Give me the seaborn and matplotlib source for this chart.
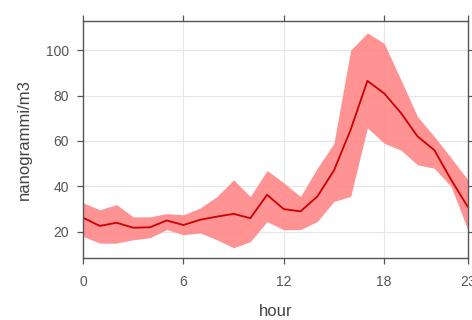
import matplotlib
matplotlib.use("Agg")
import matplotlib.pyplot as plt
import seaborn as sns
import pandas as pd

# Hourly mean concentration with its confidence band
hours = list(range(24))
mean_conc = [26.2, 22.6, 24.0, 21.8, 22.0, 25.0, 23.0, 25.3, 26.7, 27.9,
             26.0, 36.3, 30.0, 29.0, 35.5, 47.0, 65.0, 86.5, 81.0, 72.4,
             62.0, 56.0, 43.0, 31.0]
upper_conc = [32.8, 29.7, 32.0, 26.6, 26.6, 28.0, 27.5, 30.5, 35.5, 42.9,
              35.5, 47.0, 41.6, 35.5, 48.0, 59.0, 100.0, 107.6, 103.0, 87.0,
              70.7, 62.0, 52.6, 43.0]
lower_conc = [18.0, 15.0, 15.0, 16.5, 17.4, 21.0, 18.7, 19.5, 16.5, 13.0,
              15.7, 24.5, 20.9, 21.0, 24.5, 33.4, 35.6, 65.8, 59.0, 56.0,
              49.5, 48.0, 40.0, 21.0]
x_ticks = [0, 6, 12, 18, 23]
y_ticks = [20, 40, 60, 80, 100]

df = pd.DataFrame({"hour": hours, "conc": mean_conc,
                   "lo": lower_conc, "hi": upper_conc})

sns.set_theme(style="white")
plt.rcParams["font.family"] = ["Liberation Sans", "DejaVu Sans"]

fig = plt.figure(figsize=(4.72, 3.2), dpi=100)
ax = fig.add_axes([0.176, 0.194, 0.815, 0.740])

grid_c = "#e6e6e6"
for v in y_ticks:
    ax.axhline(v, color=grid_c, lw=0.8, zorder=0)
for v in [6, 12, 18]:
    ax.axvline(v, color=grid_c, lw=0.8, zorder=0)

ax.fill_between(df["hour"], df["lo"], df["hi"], color="#ff8c8c",
                alpha=0.95, lw=0, zorder=1)
sns.lineplot(data=df, x="hour", y="conc", ax=ax, color="#cc0000",
             lw=1.3, zorder=2)

ax.set_xlim(0, 23)
ax.set_ylim(8.5, 112.8)
ax.set_xticks(x_ticks)
ax.set_yticks(y_ticks)

spine_c = "#555555"
for s in ax.spines.values():
    s.set_color(spine_c)
    s.set_linewidth(1.0)

ax.tick_params(axis="both", direction="out", length=4.3, width=0.9,
               color=spine_c, labelcolor="#555555", labelsize=10,
               top=True, right=True, bottom=True, left=True,
               labeltop=False, labelright=False)
ax.tick_params(axis="x", pad=8)
ax.tick_params(axis="y", pad=6)

ax.set_xlabel("hour", fontsize=12, color="#444444", labelpad=11)
ax.set_ylabel("nanogrammi/m3", fontsize=12, color="#444444", labelpad=10)

fig.savefig("out.png", dpi=100)
